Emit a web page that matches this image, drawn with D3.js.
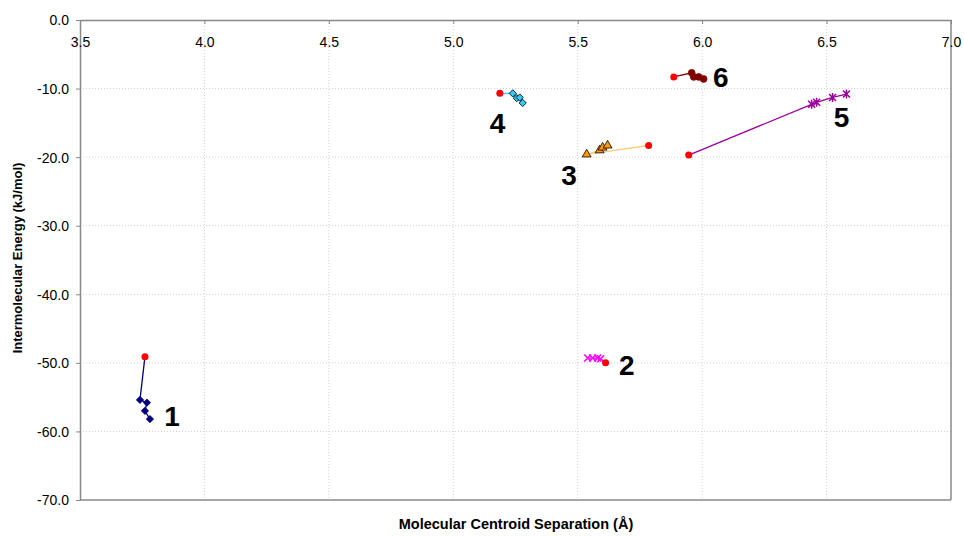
<!DOCTYPE html>
<html lang="en">
<head>
    <meta charset="UTF-8">
    <title>Energy vs Separation</title>
    <script src="https://d3js.org/d3.v7.min.js"></script>
    <style>
        body { margin: 0; background: #fff; }
        svg { font-family: "Liberation Sans", Arial, sans-serif; }
        .grid line { stroke: #d0d0d0; stroke-dasharray: 1,2; }
        .tickText { font-size: 14px; fill: #000; }
        .axisTitle { font-size: 13px; font-weight: bold; }
        .num { font-size: 28px; font-weight: bold; }
    </style>
</head>
<body>
<svg id="canvas" width="964" height="536"></svg>
<script>
    // tick values
    let xTicks = [3.5, 4.0, 4.5, 5.0, 5.5, 6.0, 6.5, 7.0];
    let yTicks = [0, -10, -20, -30, -40, -50, -60, -70];

    // series: first point = red starting point, rest = markers
    let s1x = [3.761, 3.741, 3.769, 3.761, 3.781];
    let s1y = [-49.1, -55.4, -55.8, -57.0, -58.2];
    let s2x = [5.612, 5.592, 5.580, 5.560, 5.540];
    let s2y = [-50.0, -49.4, -49.3, -49.3, -49.3];
    let s3x = [5.785, 5.536, 5.588, 5.600, 5.620];
    let s3y = [-18.3, -19.6, -19.0, -18.6, -18.3];
    let s4x = [5.187, 5.239, 5.255, 5.267, 5.279];
    let s4y = [-10.7, -10.7, -11.4, -11.3, -12.1];
    let s5x = [5.946, 6.440, 6.460, 6.524, 6.580];
    let s5y = [-19.7, -12.3, -12.0, -11.3, -10.8];
    let s6x = [5.886, 5.958, 5.966, 5.986, 6.006];
    let s6y = [-8.3, -7.7, -8.3, -8.3, -8.6];

    let labels = ["1", "2", "3", "4", "5", "6"];
    let labelX = [3.870, 5.697, 5.465, 5.178, 6.560, 6.075];
    let labelY = [-57.8, -50.3, -22.6, -15.0, -14.2, -8.4];

    let series = [
        {x: s1x, y: s1y, line: "#000080", marker: "diamond", fill: "#000080", stroke: "#000080"},
        {x: s2x, y: s2y, line: "#ff00ff", marker: "x", fill: "none", stroke: "#ff00ff"},
        {x: s3x, y: s3y, line: "#ffcc80", marker: "triangle", fill: "#ff9900", stroke: "#000"},
        {x: s4x, y: s4y, line: "#33ccff", marker: "diamond", fill: "#33ccff", stroke: "#000"},
        {x: s5x, y: s5y, line: "#990099", marker: "star", fill: "none", stroke: "#990099"},
        {x: s6x, y: s6y, line: "#800000", marker: "circle", fill: "#800000", stroke: "#800000"}
    ];

    let svg = d3.select('svg');
    let x = d3.scaleLinear().domain([3.5, 7.0]).range([80, 951]);
    let y = d3.scaleLinear().domain([-70, 0]).range([500, 20]);
    let fmt = d => d3.format('.1f')(d).replace('\u2212', '-');

    // grid
    let grid = svg.append('g').attr('class', 'grid');
    grid.selectAll('.vx').data(xTicks.slice(1, -1)).enter().append('line')
        .attr('x1', d => x(d)).attr('x2', d => x(d)).attr('y1', 20).attr('y2', 500);
    grid.selectAll('.hy').data(yTicks.slice(1, -1)).enter().append('line')
        .attr('x1', 80).attr('x2', 951).attr('y1', d => y(d)).attr('y2', d => y(d));

    // frame
    svg.append('line').attr('x1', 951).attr('x2', 951).attr('y1', 20).attr('y2', 500)
        .attr('stroke', '#888').attr('stroke-width', 1.5);
    svg.append('line').attr('x1', 80).attr('x2', 951).attr('y1', 500).attr('y2', 500)
        .attr('stroke', '#888').attr('stroke-width', 1.5);

    // y axis
    let yAxis = svg.append('g').attr('transform', 'translate(80,0)')
        .call(d3.axisLeft(y).tickValues(yTicks).tickFormat(fmt).tickSize(4).tickSizeOuter(0));
    yAxis.select('.domain').attr('stroke', '#888').attr('stroke-width', 1.5);
    yAxis.selectAll('.tick line').attr('stroke', '#888');
    yAxis.selectAll('.tick text').attr('class', 'tickText').attr('x', -11).attr('dy', '0.35em')
        .style('font-family', '"Liberation Sans", Arial, sans-serif');

    // x axis at y = 0 (top), labels drawn below the line
    let xAxis = svg.append('g').attr('transform', 'translate(0,' + y(0) + ')')
        .call(d3.axisBottom(x).tickValues(xTicks).tickFormat(fmt).tickSize(4).tickSizeOuter(0));
    xAxis.select('.domain').attr('stroke', '#888').attr('stroke-width', 1.5);
    xAxis.selectAll('.tick line').attr('stroke', '#888');
    xAxis.selectAll('.tick text').attr('class', 'tickText').attr('y', 17)
        .style('font-family', '"Liberation Sans", Arial, sans-serif');

    // lines and markers
    let lineGen = d3.line().x(d => x(d[0])).y(d => y(d[1]));
    let sym = {
        diamond: d3.symbol().type(d3.symbolSquare).size(26),
        triangle: d3.symbol().type(d3.symbolTriangle).size(34),
        circle: d3.symbol().type(d3.symbolCircle).size(36)
    };
    series.forEach(function (s) {
        let pts = s.x.map((v, i) => [v, s.y[i]]);
        svg.append('path').attr('d', lineGen(pts)).attr('fill', 'none')
            .attr('stroke', s.line).attr('stroke-width', 1.3);
        let g = svg.append('g');
        pts.slice(1).forEach(function (p) {
            let px = x(p[0]), py = y(p[1]);
            if (s.marker === 'x' || s.marker === 'star') {
                let r = 3.5;
                let d = 'M' + (px - r) + ',' + (py - r) + 'L' + (px + r) + ',' + (py + r) +
                    'M' + (px - r) + ',' + (py + r) + 'L' + (px + r) + ',' + (py - r);
                if (s.marker === 'star') d += 'M' + px + ',' + (py - r - 1) + 'L' + px + ',' + (py + r + 1);
                g.append('path').attr('d', d).attr('stroke', s.stroke).attr('stroke-width', 1.5).attr('fill', 'none');
            } else {
                let t = 'translate(' + px + ',' + py + ')' + (s.marker === 'diamond' ? ' rotate(45)' : '');
                g.append('path').attr('d', sym[s.marker]()).attr('transform', t)
                    .attr('fill', s.fill).attr('stroke', s.stroke).attr('stroke-width', 0.8);
            }
        });
        // red starting point
        svg.append('circle').attr('cx', x(pts[0][0])).attr('cy', y(pts[0][1])).attr('r', 3.5)
            .attr('fill', '#ff0000');
    });

    // series numbers
    svg.selectAll('.num').data(labels).enter().append('text').attr('class', 'num')
        .attr('x', (d, i) => x(labelX[i])).attr('y', (d, i) => y(labelY[i]))
        .attr('dy', '0.35em').attr('text-anchor', 'middle').text(d => d);

    // axis titles
    svg.append('text').attr('class', 'axisTitle').style('font-size', '14.5px')
        .attr('x', 516).attr('y', 529)
        .attr('text-anchor', 'middle').text('Molecular Centroid Separation (Å)');
    svg.append('text').attr('class', 'axisTitle')
        .attr('transform', 'translate(22,258) rotate(-90)')
        .attr('text-anchor', 'middle').text('Intermolecular Energy (kJ/mol)');
</script>
</body>
</html>
